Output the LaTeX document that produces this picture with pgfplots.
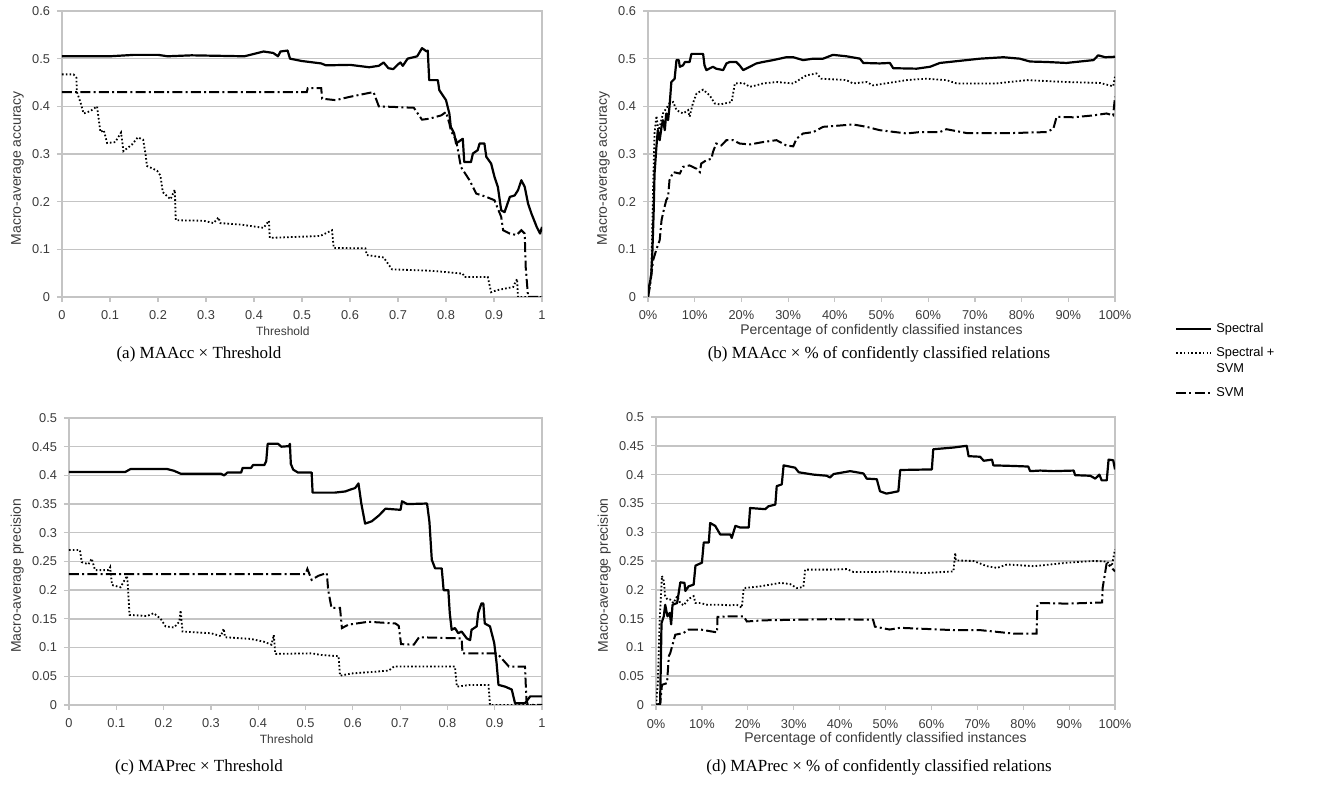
\documentclass[border=0pt]{standalone}
\usepackage{fontspec}
\setmainfont{Liberation Serif}
\newfontfamily\arial{Liberation Sans}
\usepackage{pgfplots}
\pgfplotsset{compat=1.18}
\definecolor{gridgray}{HTML}{C4C4C4}
\definecolor{labgray}{HTML}{3A3A3A}

\pgfplotsset{
  panel/.style={
    scale only axis,
    anchor=north west,
    xmin=0, ymin=0,
    axis line style={draw=gridgray, line width=0.7pt},
    ymajorgrids,
    grid style={draw=gridgray, line width=0.7pt},
    tick style={draw=gridgray, line width=0.6pt},
    tick align=outside, major tick length=2.5pt,
    xtick pos=bottom, ytick pos=left,
    tick label style={font=\arial\fontsize{6.4}{7}\selectfont, text=labgray},
    /pgf/number format/assume math mode=true,
    scaled ticks=false,
    yticklabel style={/pgf/number format/fixed, /pgf/number format/precision=2},
    xticklabel style={/pgf/number format/fixed, /pgf/number format/precision=1, yshift=-1pt},
    every axis y label/.style={at={(ticklabel cs:0.45,4pt)}, rotate=90, anchor=center,
      font=\arial\fontsize{7}{8}\selectfont, text=labgray},
    every axis x label/.style={at={(axis description cs:0.46,0)}, anchor=center, yshift=-17pt,
      font=\arial\fontsize{6}{7}\selectfont, text=labgray},
  },
  thr/.style={xmax=1, xtick={0,0.1,...,1}},
  pct/.style={xmax=100, xtick={0,10,...,100}, xticklabel={\pgfmathprintnumber{\tick}\%},
    xlabel style={at={(axis description cs:0.5,0)}, font=\arial\fontsize{7}{8}\selectfont}},
  spec/.style={black, line width=1.1pt, line join=round},
  spsvm/.style={black, line width=0.9pt, dash pattern=on 0.8pt off 1.1pt},
  svmst/.style={black, line width=1pt, dash pattern=on 5pt off 1.6pt on 1pt off 1.6pt},
  upimg/.style={legend image code/.code={\draw[##1] (0pt,4pt) -- (17.5pt,4pt);}},
}

\begin{document}
\begin{tikzpicture}
\path[use as bounding box] (0,0) rectangle (658.5pt,-393pt);

% (a) accuracy vs threshold
\begin{axis}[panel, thr, at={(31pt,-5.5pt)}, width=240pt, height=143pt,
  ymax=0.6, ytick={0,0.1,...,0.6},
  xlabel={Threshold}, ylabel={Macro-average accuracy}]
\addplot[spec] coordinates {(0,0.505) (0.1,0.505) (0.15,0.508) (0.2,0.508) (0.22,0.505) (0.27,0.507) (0.38,0.505) (0.4,0.51) (0.42,0.515) (0.44,0.512) (0.45,0.505) (0.455,0.515) (0.47,0.517) (0.475,0.50) (0.5,0.495) (0.54,0.49) (0.55,0.486) (0.6,0.487) (0.64,0.482) (0.66,0.485) (0.67,0.492) (0.68,0.48) (0.69,0.478) (0.7,0.488) (0.705,0.492) (0.71,0.485) (0.72,0.50) (0.74,0.505) (0.75,0.522) (0.76,0.515) (0.762,0.517) (0.765,0.455) (0.783,0.455) (0.786,0.434) (0.8,0.413) (0.807,0.385) (0.81,0.357) (0.817,0.343) (0.821,0.322) (0.835,0.332) (0.838,0.283) (0.852,0.283) (0.856,0.301) (0.866,0.308) (0.87,0.322) (0.88,0.322) (0.884,0.294) (0.894,0.28) (0.901,0.252) (0.908,0.231) (0.915,0.182) (0.922,0.178) (0.933,0.21) (0.943,0.213) (0.95,0.224) (0.957,0.245) (0.964,0.231) (0.971,0.196) (0.978,0.175) (0.989,0.147) (0.996,0.133) (1,0.147)};
\addplot[spsvm] coordinates {(0,0.467) (0.024,0.467) (0.03,0.46) (0.031,0.43) (0.038,0.41) (0.045,0.385) (0.059,0.39) (0.073,0.40) (0.08,0.346) (0.087,0.35) (0.094,0.323) (0.111,0.325) (0.123,0.345) (0.128,0.306) (0.146,0.32) (0.158,0.335) (0.169,0.33) (0.174,0.30) (0.177,0.275) (0.198,0.265) (0.205,0.255) (0.21,0.22) (0.226,0.205) (0.235,0.225) (0.237,0.161) (0.295,0.16) (0.316,0.155) (0.326,0.167) (0.33,0.155) (0.372,0.152) (0.42,0.145) (0.431,0.16) (0.433,0.124) (0.538,0.128) (0.5625,0.14) (0.566,0.103) (0.632,0.102) (0.635,0.088) (0.67,0.083) (0.6875,0.058) (0.77,0.055) (0.835,0.049) (0.838,0.042) (0.887,0.042) (0.894,0.01) (0.905,0.014) (0.94,0.021) (0.948,0.038) (0.95,0.0) (1,0)};
\addplot[svmst] coordinates {(0,0.43) (0.51,0.43) (0.512,0.438) (0.54,0.438) (0.542,0.416) (0.57,0.413) (0.6,0.42) (0.649,0.43) (0.66,0.40) (0.733,0.397) (0.75,0.372) (0.765,0.374) (0.79,0.381) (0.8,0.388) (0.807,0.364) (0.81,0.35) (0.817,0.336) (0.821,0.33) (0.831,0.273) (0.849,0.245) (0.863,0.217) (0.884,0.21) (0.901,0.203) (0.915,0.168) (0.919,0.14) (0.933,0.133) (0.947,0.13) (0.957,0.14) (0.964,0.133) (0.966,0.063) (0.971,0) (1,0)};
\end{axis}

% (b) accuracy vs percentage
\begin{axis}[panel, pct, at={(324pt,-5.5pt)}, width=233.5pt, height=143pt,
  ymax=0.6, ytick={0,0.1,...,0.6},
  xlabel={Percentage of confidently classified instances}, ylabel={Macro-average accuracy},
  legend style={at={(axis description cs:1.128,-0.075)}, anchor=north west, draw=none, fill=none,
    font=\arial\fontsize{6.4}{8}\selectfont, cells={anchor=west, align=left}, row sep=2pt, inner sep=0pt},
  legend image code/.code={\draw[#1] (0pt,0pt) -- (17.5pt,0pt);}]
\addplot[spec] coordinates {(0,0) (0.2,0.021) (0.5,0.035) (0.7,0.049) (0.9,0.084) (1.2,0.175) (1.4,0.259) (1.8,0.315) (2.1,0.35) (2.5,0.329) (2.9,0.357) (3.2,0.371) (3.6,0.35) (3.9,0.385) (4.3,0.371) (4.6,0.399) (5.0,0.451) (5.7,0.458) (6.1,0.497) (6.6,0.497) (6.8,0.483) (7.5,0.486) (7.9,0.493) (8.9,0.493) (9.3,0.51) (11.8,0.51) (12.1,0.486) (12.5,0.476) (13.9,0.483) (14.6,0.479) (16.1,0.476) (16.8,0.49) (17.5,0.493) (18.9,0.493) (19.6,0.486) (20.4,0.476) (21.8,0.483) (23.2,0.49) (24.6,0.493) (26.8,0.497) (29.6,0.503) (31.1,0.503) (33.2,0.497) (35.4,0.5) (37.5,0.5) (39.6,0.508) (42.5,0.505) (45.4,0.5) (46.1,0.491) (49.6,0.49) (51.8,0.491) (52.5,0.48) (57.5,0.479) (60.4,0.483) (62.5,0.491) (65.4,0.494) (71.1,0.5) (76.1,0.503) (79.6,0.5) (81.8,0.494) (85.4,0.493) (89.6,0.491) (95.4,0.497) (96.4,0.507) (97.9,0.503) (100,0.504)};
\addplot[spsvm, upimg] coordinates {(0,0) (0.7,0.049) (1.1,0.231) (1.4,0.343) (1.8,0.38) (2.2,0.35) (2.5,0.357) (3.2,0.385) (4.6,0.406) (5.4,0.409) (6.1,0.392) (7.5,0.385) (8.6,0.392) (8.9,0.378) (9.6,0.406) (10.4,0.427) (11.8,0.435) (13.2,0.423) (14.3,0.406) (15.4,0.404) (17.9,0.409) (18.6,0.448) (20.4,0.449) (21.8,0.441) (23.2,0.444) (24.6,0.448) (27.5,0.451) (31.1,0.448) (33.9,0.465) (36.1,0.469) (37.1,0.458) (42.5,0.455) (43.9,0.448) (46.8,0.451) (48.2,0.444) (55.4,0.455) (59.6,0.458) (63.9,0.455) (66.1,0.448) (74.6,0.448) (81.1,0.455) (89.6,0.451) (96.8,0.449) (99.6,0.442) (100,0.462)};
\addplot[svmst] coordinates {(0,0) (0.4,0.021) (1.1,0.077) (1.8,0.10) (2.5,0.119) (2.9,0.161) (3.2,0.175) (3.9,0.203) (4.3,0.21) (4.6,0.245) (5.4,0.262) (6.8,0.259) (7.5,0.273) (8.9,0.276) (10.4,0.269) (11.1,0.262) (11.4,0.28) (12.5,0.287) (13.6,0.29) (13.9,0.304) (14.6,0.322) (15.7,0.318) (16.8,0.329) (18.2,0.329) (19.6,0.322) (21.8,0.32) (24.6,0.325) (27.5,0.329) (29.6,0.318) (31.1,0.316) (31.8,0.332) (33.2,0.343) (35.4,0.346) (37.5,0.357) (38.9,0.358) (43.9,0.362) (46.8,0.357) (49.6,0.35) (55.4,0.343) (58.2,0.346) (62.5,0.346) (63.9,0.352) (68.2,0.344) (78.2,0.344) (85.4,0.346) (86.8,0.353) (87.5,0.378) (91.1,0.377) (95.4,0.381) (98.2,0.385) (99.6,0.381) (100,0.42)};
\legend{Spectral, {Spectral +\\SVM}, SVM}
\end{axis}

% (c) precision vs threshold
\begin{axis}[panel, thr, at={(34.5pt,-209pt)}, width=236.5pt, height=143.5pt,
  ymax=0.5, ytick={0,0.05,...,0.5},
  xlabel={Threshold}, ylabel={Macro-average precision}]
\addplot[spec] coordinates {(0,0.406) (0.119,0.406) (0.13,0.411) (0.208,0.411) (0.222,0.408) (0.236,0.403) (0.321,0.403) (0.328,0.40) (0.335,0.405) (0.364,0.405) (0.367,0.413) (0.385,0.413) (0.389,0.418) (0.413,0.418) (0.417,0.425) (0.42,0.455) (0.442,0.455) (0.449,0.45) (0.465,0.451) (0.467,0.455) (0.469,0.42) (0.474,0.41) (0.484,0.405) (0.513,0.405) (0.515,0.37) (0.562,0.37) (0.584,0.372) (0.594,0.375) (0.605,0.378) (0.612,0.386) (0.618,0.351) (0.626,0.316) (0.64,0.32) (0.655,0.33) (0.669,0.342) (0.701,0.34) (0.704,0.355) (0.715,0.35) (0.757,0.351) (0.762,0.319) (0.767,0.253) (0.774,0.238) (0.788,0.238) (0.792,0.2) (0.802,0.2) (0.805,0.16) (0.809,0.131) (0.816,0.134) (0.823,0.125) (0.83,0.128) (0.841,0.116) (0.848,0.113) (0.851,0.131) (0.862,0.137) (0.865,0.16) (0.872,0.177) (0.876,0.177) (0.879,0.142) (0.89,0.137) (0.899,0.108) (0.904,0.073) (0.908,0.035) (0.922,0.032) (0.936,0.027) (0.943,0.003) (0.964,0.003) (0.975,0.015) (1,0.015)};
\addplot[spsvm] coordinates {(0,0.27) (0.023,0.27) (0.027,0.249) (0.041,0.245) (0.048,0.255) (0.055,0.235) (0.084,0.235) (0.087,0.24) (0.091,0.209) (0.109,0.205) (0.119,0.22) (0.123,0.225) (0.128,0.157) (0.165,0.155) (0.179,0.16) (0.194,0.15) (0.204,0.137) (0.222,0.135) (0.233,0.145) (0.236,0.165) (0.24,0.128) (0.3,0.125) (0.321,0.12) (0.327,0.133) (0.33,0.118) (0.385,0.115) (0.413,0.11) (0.428,0.105) (0.433,0.122) (0.436,0.089) (0.513,0.09) (0.534,0.087) (0.57,0.085) (0.573,0.051) (0.598,0.055) (0.633,0.057) (0.676,0.06) (0.687,0.067) (0.816,0.067) (0.82,0.032) (0.848,0.035) (0.887,0.035) (0.89,0) (1,0)};
\addplot[svmst] coordinates {(0,0.228) (0.5,0.228) (0.504,0.237) (0.513,0.218) (0.527,0.225) (0.545,0.23) (0.548,0.2) (0.555,0.169) (0.573,0.169) (0.577,0.134) (0.591,0.14) (0.633,0.145) (0.69,0.142) (0.697,0.138) (0.702,0.106) (0.729,0.105) (0.74,0.118) (0.83,0.116) (0.832,0.09) (0.905,0.09) (0.93,0.067) (0.964,0.067) (0.967,0.01) (0.97,0) (1,0)};
\end{axis}

% (d) precision vs percentage
\begin{axis}[panel, pct, at={(328pt,-208.5pt)}, width=229.5pt, height=144pt,
  ymax=0.5, ytick={0,0.05,...,0.5},
  xlabel={Percentage of confidently classified instances}, ylabel={Macro-average precision}]
\addplot[spec] coordinates {(0,0) (0.9,0.002) (1.2,0.142) (1.7,0.154) (2.0,0.174) (2.5,0.154) (3.0,0.16) (3.3,0.14) (3.6,0.174) (4.6,0.177) (5.3,0.213) (6.2,0.212) (6.4,0.198) (7.1,0.206) (8.2,0.209) (8.6,0.242) (10,0.247) (10.4,0.282) (11.5,0.282) (11.8,0.316) (12.9,0.311) (14.0,0.296) (16.2,0.296) (16.5,0.29) (17.3,0.311) (18.4,0.308) (20.2,0.308) (20.5,0.342) (23.8,0.34) (24.5,0.345) (26,0.348) (26.3,0.38) (27.4,0.383) (27.8,0.416) (30.3,0.412) (31.1,0.404) (34.3,0.4) (37.2,0.398) (37.9,0.395) (38.7,0.401) (42.3,0.406) (45.2,0.402) (45.9,0.393) (48.1,0.392) (48.8,0.371) (50.2,0.367) (52.8,0.371) (53.2,0.408) (60.1,0.409) (60.4,0.444) (64.8,0.447) (67.7,0.45) (68.1,0.432) (70.6,0.431) (71.4,0.424) (73.2,0.426) (73.5,0.416) (77.9,0.415) (81.1,0.414) (81.5,0.406) (83.7,0.407) (86.6,0.406) (91,0.407) (91.3,0.399) (94.6,0.398) (95.7,0.393) (96.6,0.4) (97.1,0.39) (98.2,0.39) (98.6,0.426) (99.6,0.425) (100,0.409)};
\addplot[spsvm] coordinates {(0,0) (0.4,0.038) (0.8,0.148) (1.3,0.224) (1.7,0.215) (2,0.189) (2.5,0.183) (3.1,0.183) (3.8,0.177) (4.6,0.189) (5.3,0.177) (6,0.173) (7.1,0.184) (8.2,0.189) (8.6,0.177) (9.7,0.177) (11.1,0.174) (14,0.174) (16.2,0.173) (17.6,0.174) (18.7,0.169) (19.1,0.203) (22.7,0.206) (27.1,0.212) (29.2,0.21) (30.7,0.203) (32.1,0.205) (32.5,0.235) (38,0.235) (41.6,0.236) (43,0.231) (48.8,0.231) (50.9,0.232) (58.3,0.229) (64.8,0.232) (65.2,0.264) (65.3,0.251) (69.2,0.25) (72.1,0.241) (74.3,0.238) (76.5,0.244) (82.3,0.241) (89.6,0.247) (95.4,0.25) (98.2,0.249) (99.3,0.241) (100,0.27)};
\addplot[svmst] coordinates {(0,0) (0.9,0.002) (1.3,0.035) (2.4,0.038) (2.8,0.085) (3.1,0.09) (4.2,0.122) (6,0.125) (7.1,0.131) (9.7,0.131) (13.3,0.126) (13.4,0.153) (16.2,0.154) (19.1,0.154) (19.8,0.145) (23.4,0.147) (30.7,0.148) (38,0.149) (47.3,0.148) (47.7,0.136) (50.9,0.131) (53.2,0.134) (59,0.132) (64.8,0.13) (70.6,0.13) (77.9,0.124) (82.9,0.124) (83.1,0.174) (83.7,0.177) (89.6,0.176) (97.2,0.178) (97.3,0.203) (98.2,0.247) (100,0.232)};
\end{axis}

% sub-captions
\begin{scope}[every node/.style={font=\fontsize{8.5}{10}\selectfont}]
\node at (99.5pt,-177pt) {(a) MAAcc × Threshold};
\node at (439.5pt,-177pt) {(b) MAAcc × \% of confidently classified relations};
\node at (99.5pt,-383.5pt) {(c) MAPrec × Threshold};
\node at (439.5pt,-383.5pt) {(d) MAPrec × \% of confidently classified relations};
\end{scope}
\end{tikzpicture}
\end{document}
